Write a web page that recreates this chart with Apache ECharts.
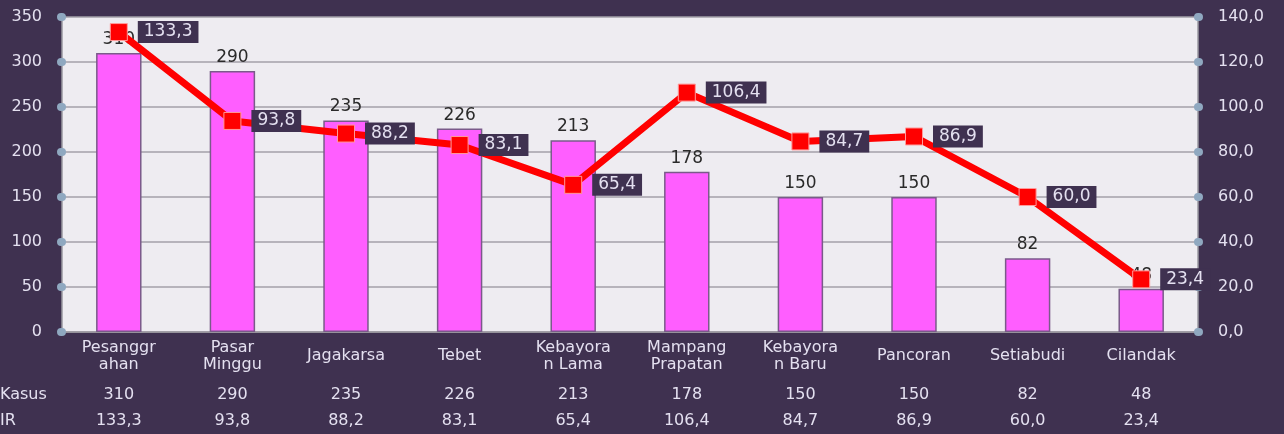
<!DOCTYPE html>
<html>
<head>
<meta charset="utf-8">
<script src="https://cdn.jsdelivr.net/npm/echarts@6/dist/echarts.min.js"></script>
<style>
  html, body { margin: 0; padding: 0; background: #3f3150; }
  #chart { width: 1284px; height: 434px; }
</style>
</head>
<body>
<div id="chart"></div>
<script>
// kecamatan
const categories = ['Pesanggr\nahan', 'Pasar\nMinggu', 'Jagakarsa', 'Tebet', 'Kebayora\nn Lama',
  'Mampang\nPrapatan', 'Kebayora\nn Baru', 'Pancoran', 'Setiabudi', 'Cilandak'];
// jumlah kasus
const kasus = [310, 290, 235, 226, 213, 178, 150, 150, 82, 48];
// incidence rate
const ir = [133.3, 93.8, 88.2, 83.1, 65.4, 106.4, 84.7, 86.9, 60.0, 23.4];

const fmt = v => v.toFixed(1).replace('.', ',');
const textColor = '#e4e0f0';
const font = 'DejaVu Sans';

const chart = echarts.init(document.getElementById('chart'));

// sumbu x bawah: nama, baris Kasus, baris IR (label dipusatkan vertikal)
const bottomAxis = (data, offset) => ({
  type: 'category',
  data: data,
  position: 'bottom',
  offset: offset,
  axisLine: { show: offset === 0, lineStyle: { color: '#9a98a0', width: 1.5 } },
  axisTick: { show: false },
  axisLabel: { color: textColor, fontFamily: font, fontSize: 16, lineHeight: 17,
    verticalAlign: 'middle', margin: 24, interval: 0 }
});

const dotTick = {
  show: true, length: 1, inside: false,
  lineStyle: { color: '#8fa8c0', width: 8, cap: 'round' }
};

const option = {
  backgroundColor: '#3f3150',
  textStyle: { fontFamily: font },
  grid: { left: 62, right: 86, top: 17, bottom: 102, containLabel: false, outerBoundsMode: 'none',
    show: true, backgroundColor: '#eeecf1', borderWidth: 0 },
  xAxis: [
    bottomAxis(categories, 0),
    bottomAxis(kasus.map(String), 39),
    bottomAxis(ir.map(fmt), 65)
  ],
  yAxis: [
    {
      type: 'value', min: 0, max: 350, interval: 50,
      axisLine: { show: true, lineStyle: { color: '#9a98a0', width: 1.5 } },
      axisTick: dotTick,
      axisLabel: { color: textColor, fontFamily: font, fontSize: 16, margin: 20 },
      splitLine: { lineStyle: { color: '#a3a1a8', width: 1.5 } }
    },
    {
      type: 'value', min: 0, max: 140, interval: 20, position: 'right',
      axisLine: { show: true, lineStyle: { color: '#9a98a0', width: 1.5 } },
      axisTick: dotTick,
      axisLabel: { color: textColor, fontFamily: font, fontSize: 16, margin: 20, formatter: fmt },
      splitLine: { show: false }
    }
  ],
  graphic: [
    { type: 'text', left: 0, top: 387, style: { text: 'Kasus', fill: textColor, font: '16px "DejaVu Sans"' } },
    { type: 'text', left: 0, top: 413, style: { text: 'IR', fill: textColor, font: '16px "DejaVu Sans"' } }
  ],
  series: [
    {
      name: 'Kasus', type: 'bar', data: kasus, barWidth: '40%',
      itemStyle: { color: '#ff5eff', borderColor: '#7a5a8a', borderWidth: 1.5 },
      label: { show: true, position: 'top', color: '#2a2a2a', fontFamily: font, fontSize: 17, distance: 5 },
      z: 2
    },
    {
      name: 'IR', type: 'line', yAxisIndex: 1, data: ir,
      symbol: 'rect', symbolSize: 17,
      lineStyle: { color: '#ff0000', width: 7 },
      itemStyle: { color: '#ff0000', borderColor: '#ff9a9a', borderWidth: 1 },
      label: {
        show: true, position: 'right', distance: 10, formatter: p => fmt(p.value),
        color: textColor, fontFamily: font, fontSize: 17,
        backgroundColor: '#3f3150', padding: [3, 6, 2, 6]
      },
      z: 3
    }
  ]
};

chart.setOption(option);
</script>
</body>
</html>
